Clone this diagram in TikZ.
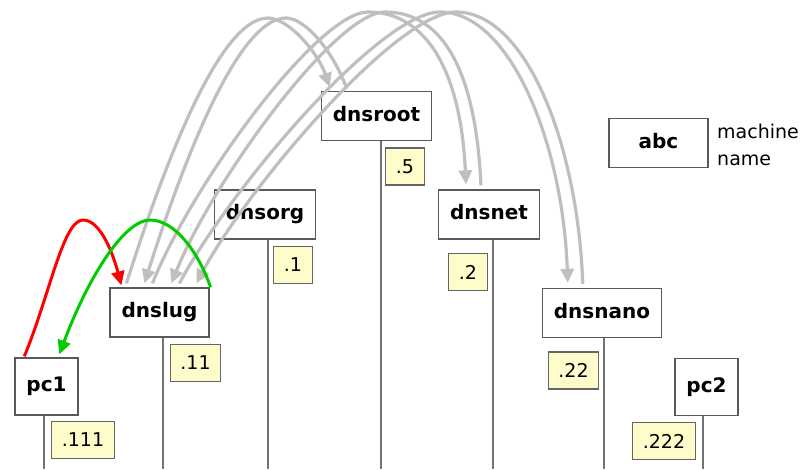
\documentclass[tikz,border=0pt]{standalone}
\usepackage{fontspec}
\setmainfont{DejaVu Sans}
\usetikzlibrary{arrows.meta}

\tikzset{
  machine/.style={draw=black!65, line width=1.3pt, fill=white,
    font=\fontsize{20}{24}\selectfont\bfseries,
    inner xsep=11.5pt, inner ysep=0pt, minimum height=49pt,
    text height=14.5pt, text depth=4pt},
  addr/.style={draw=black!60, line width=1.1pt, fill=yellow!20,
    font=\fontsize{19}{23}\selectfont,
    inner xsep=10pt, inner ysep=0pt, minimum height=37pt},
  wire/.style={draw=black!55, line width=1.3pt},
  hop/.style={draw=black!25, line width=3.2pt, -{Triangle[length=14pt,width=13pt]}},
  ask/.style={draw=red, line width=3pt, -{Triangle[length=14pt,width=13pt]}},
  tell/.style={draw=green!80!black, line width=3pt, -{Triangle[length=14pt,width=13pt]}}
}

\begin{document}
\begin{tikzpicture}[x=1pt,y=-1pt]
\useasboundingbox (0,0) rectangle (806,469);

% hosts
\node[machine,minimum height=57pt] (pc1) at (46.5,386.5) {pc1};
\node[machine] (slug) at (159.5,312.5) {dnslug};
\node[machine] (org) at (265,214.5) {dnsorg};
\node[machine] (root) at (376.5,116) {dnsroot};
\node[machine] (net) at (489,214.5) {dnsnet};
\node[machine] (nano) at (602,313) {dnsnano};
\node[machine,minimum height=57pt] (pc2) at (706.5,387) {pc2};

\foreach \m/\x in {pc1/44,slug/163,org/268,root/381,net/493,nano/604,pc2/703}
  \draw[wire] (\m.south -| \x,0) -- (\x,469);

% addresses
\node[addr] (a111) at (83,440) {.111};
\node[addr] (a11) at (195.5,363) {.11};
\node[addr] (a1) at (293,265) {.1};
\node[addr] (a5) at (405,166.5) {.5};
\node[addr] (a2) at (468,272) {.2};
\node[addr] (a22) at (573.5,370.5) {.22};
\node[addr] (a222) at (664,441) {.222};

% legend
\node[machine,minimum width=99pt] (key) at (658.5,143) {abc};
\node[anchor=west, align=left, inner sep=0pt, font=\fontsize{19}{27}\selectfont] (keytext) at (717,145) {machine\\name};

% lookups
\draw[hop] ([shift={(17pt,4pt)}]slug.north west) .. controls +(35,-110) and +(-50,0) .. (268,18)
  .. controls +(20,0) and +(-12,-35) .. ([shift={(9pt,4pt)}]root.north west);
\draw[hop] ([shift={(26pt,2pt)}]root.north west) .. controls +(-12,-35) and +(20,0) .. (286,18)
  .. controls +(-50,0) and +(35,-110) .. ([shift={(35pt,4pt)}]slug.north west);
\draw[hop] ([shift={(43pt,4pt)}]slug.north west) .. controls +(40,-100) and +(-50,0) .. (368,12)
  .. controls +(60,0) and +(-5,-110) .. ([shift={(28pt,5pt)}]net.north west);
\draw[hop] ([shift={(43pt,4pt)}]net.north west) .. controls +(-5,-110) and +(60,0) .. (385,12)
  .. controls +(-50,0) and +(40,-100) .. ([shift={(62pt,4pt)}]slug.north west);
\draw[hop] ([shift={(70pt,4pt)}]slug.north west) .. controls +(50,-94) and +(-60,0) .. (440,12)
  .. controls +(70,0) and +(-5,-140) .. ([shift={(26pt,5pt)}]nano.north west);
\draw[hop] ([shift={(41pt,4pt)}]nano.north west) .. controls +(-5,-140) and +(70,0) .. (456,12)
  .. controls +(-60,0) and +(50,-94) .. ([shift={(87pt,4pt)}]slug.north west);

\draw[ask] ([shift={(10pt,1pt)}]pc1.north west) .. controls +(25,-60) and +(-20,0) .. (83,220)
  .. controls +(18,0) and +(-8,-30) .. ([shift={(12pt,2pt)}]slug.north west);
\draw[tell] ([shift={(1pt,0pt)}]slug.north east) .. controls +(-12,-35) and +(25,0) .. (150,220)
  .. controls +(-25,0) and +(30,-80) .. ([shift={(45pt,3pt)}]pc1.north west);
\end{tikzpicture}
\end{document}
